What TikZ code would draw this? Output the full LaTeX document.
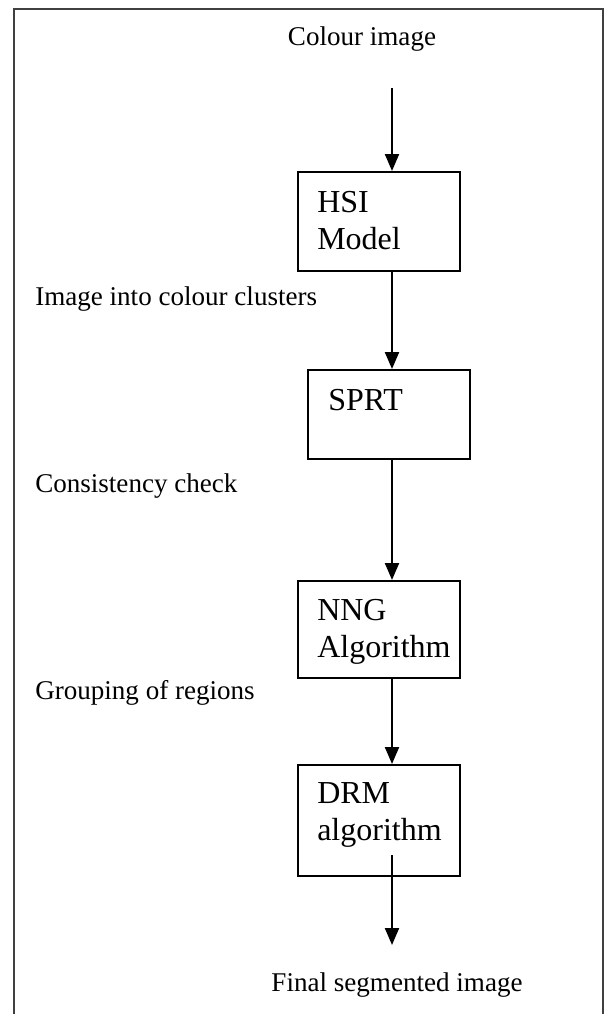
\documentclass[tikz,border=0pt]{standalone}
\usepackage{fontspec}
\setmainfont{Liberation Serif}
\usetikzlibrary{arrows.meta}

\tikzset{
  stage/.style={draw, line width=1.5pt, inner sep=0pt, anchor=north west,
    minimum width=121.5pt},
  stagetext/.style={anchor=base west, inner sep=0pt, align=left,
    font=\fontsize{24}{27.75}\selectfont},
  note/.style={inner sep=0pt, font=\fontsize{20.3}{24}\selectfont},
  flow/.style={line width=1.6pt, -{Triangle[length=12.75pt, width=10.5pt]}},
}

\begin{document}
\begin{tikzpicture}[x=0.75pt,y=0.75pt,yscale=-1,xscale=1]
\useasboundingbox (0,0) rectangle (604,1014);

%Outer frame
\draw [line width=1.2pt, black!75] (14,1014) -- (14,9) -- (603,9) -- (603,1014) ;

%Stages
\node [stage, minimum height=74.25pt] (hsi) at (297,171) {};
\node [stage, minimum height=66.75pt] (sprt) at (307,369) {};
\node [stage, minimum height=72.75pt] (nng) at (297,580) {};
\node [stage, minimum height=83.25pt] (drm) at (297,764) {};

% Stage texts (base is on the last line)
\node [stagetext] (hsitext) at (317,249) {HSI\\Model};
\node [stagetext] (sprttext) at (328,410) {SPRT};
\node [stagetext] (nngtext) at (317,657) {NNG\\Algorithm};
\node [stagetext] (drmtext) at (317,840) {DRM\\algorithm};

% Text Node
\node [note, anchor=base] (input) at (362,45) {Colour image};
% Text Node
\node [note, anchor=base west] (clusters) at (35,305) {Image into colour clusters};
% Text Node
\node [note, anchor=base west] (consistency) at (35,492) {Consistency check};
% Text Node
\node [note, anchor=base west] (grouping) at (35,699) {Grouping of regions};
% Text Node
\node [note, anchor=base] (output) at (397,991) {Final segmented image};

%Arrows
\coordinate (start) at (392,88);
\coordinate (tail) at (392,855);
\coordinate (finish) at (392,945);
\draw [flow] (start) -- (hsi.north -| start) ;
\draw [flow] (hsi.south -| start) -- (sprt.north -| start) ;
\draw [flow] (sprt.south -| start) -- (nng.north -| start) ;
\draw [flow] (nng.south -| start) -- (drm.north -| start) ;
\draw [flow] (tail) -- (finish) ;

\end{tikzpicture}
\end{document}
